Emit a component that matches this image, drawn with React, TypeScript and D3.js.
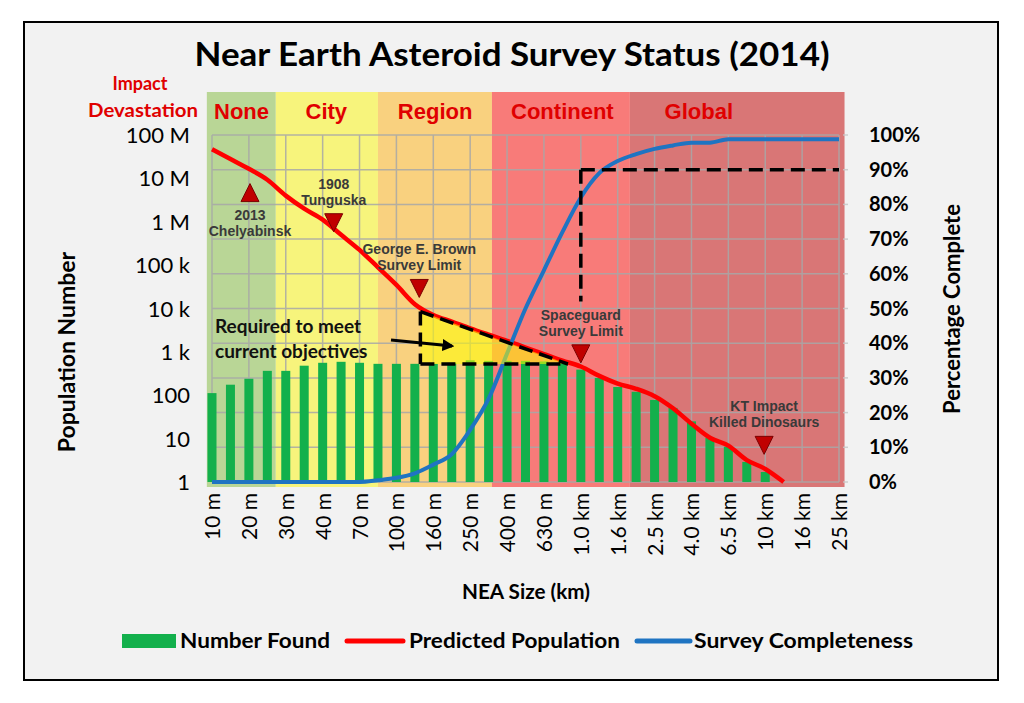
import * as d3 from 'd3';

// x positions are category indices (one per size label, half steps for bars)
const sizeLabels = ['10 m', '20 m', '30 m', '40 m', '70 m', '100 m', '160 m', '250 m', '400 m', '630 m',
  '1.0 km', '1.6 km', '2.5 km', '4.0 km', '6.5 km', '10 km', '16 km', '25 km'];

const popTicks = [1, 10, 100, 1e3, 1e4, 1e5, 1e6, 1e7, 1e8];
const popTickLabels = ['1', '10', '100', '1 k', '10 k', '100 k', '1 M', '10 M', '100 M'];
const pctTicks = [0, 10, 20, 30, 40, 50, 60, 70, 80, 90, 100];

// bars at index 0, 0.5, 1 ... 15
const numberFound = [112, 175, 240, 365, 365, 480, 560, 590, 560, 530, 530, 530, 530, 560, 640, 620,
  620, 620, 600, 560, 390, 250, 155, 120, 78, 51, 25, 10.5, 6.5, 2.9, 1.7];

// index 0 .. 15.5 in half steps
const predicted = [4.7e7, 2.8e7, 1.66e7, 9.3e6, 4.0e6, 2.0e6, 1.12e6, 5.0e5, 2.24e5, 8.9e4, 3.5e4,
  1.26e4, 7.1e3, 5.0e3, 3.5e3, 2.5e3, 1.8e3, 1.26e3, 890, 630, 460, 280, 186, 141, 95, 50, 22,
  10.5, 6.9, 3.2, 2.0, 1];

// index 0 .. 17 in half steps, percent
const completeness = [0, 0, 0, 0, 0, 0, 0, 0, 0, 0.5, 1.2, 2.5, 5, 8, 15, 24, 37, 50, 61, 72, 82, 89,
  92.5, 94.5, 96, 97, 97.8, 97.8, 98.8, 98.8, 98.8, 98.8, 98.8, 98.8, 98.8];

const bandNames = ['None', 'City', 'Region', 'Continent', 'Global'];
const bandStarts = [-0.14, 1.73, 4.5, 7.59, 11.33];
const bandEnds = [1.73, 4.5, 7.59, 11.33, 17.15];
const bandLabelPos = [0.8, 3.1, 6.05, 9.5, 13.2];

const markerNames = [['2013', 'Chelyabinsk'], ['1908', 'Tunguska'], ['George E. Brown', 'Survey Limit'],
  ['Spaceguard', 'Survey Limit'], ['KT Impact', 'Killed Dinosaurs']];
const markerIndex = [1.03, 3.3, 5.62, 10.0, 14.97];
const markerPop = [4.7e6, 9.5e5, 2.9e4, 900, 7];
const markerUp = [true, false, false, false, false];

// "required to meet current objectives" triangle
const gbIndex = 5.65;
const gbPop = 8500;
const requiredPop = 525;
const requiredEnd = 9.65;
// spaceguard goal
const sgIndex = 10;
const sgGoal = 90;
const sgLow = 52;

const bandColors = ['#b9d696', '#f7f47c', '#f9d17f', '#f87b79', '#d97676'];

const App = () => {
  const x = d3.scaleLinear().domain([0, 17]).range([212, 839]);
  const y = d3.scaleLog().domain([1, 1e8]).range([482, 135]);
  const yp = d3.scaleLinear().domain([0, 100]).range([482, 135]);

  const redLine = d3.line<number>()
    .x((_, i) => x(i / 2))
    .y(d => y(d))
    .curve(d3.curveMonotoneX)(predicted);

  const blueLine = d3.line<number>()
    .x((_, i) => x(i / 2))
    .y(d => yp(d))
    .curve(d3.curveMonotoneX)(completeness);

  const tri = [[gbIndex, gbPop], [requiredEnd, requiredPop], [gbIndex, requiredPop]]
    .map(([i, p]) => `${x(i)},${y(p)}`).join(' ');

  const dash = { stroke: '#000', strokeWidth: 3.5, strokeDasharray: '14 7', fill: 'none' };
  const lato = 'Lato, "Open Sans", sans-serif';
  const narrow = '"Liberation Sans Narrow", "Arial Narrow", "Liberation Sans", sans-serif';

  return (
    <svg width={1024} height={703} style={{ position: 'absolute', left: 0, top: 0, background: '#fff' }}>
      <rect x={24} y={22} width={974} height={658} fill="#f2f2f2" stroke="#000" strokeWidth={2} />

      <text x={512} y={66} textAnchor="middle" fontFamily={lato} fontWeight="bold" fontSize={32}
        textLength={635} lengthAdjust="spacingAndGlyphs">Near Earth Asteroid Survey Status (2014)</text>

      {/* impact bands */}
      {bandNames.map((b, i) => (
        <rect key={b} x={x(bandStarts[i])} y={92} width={x(bandEnds[i]) - x(bandStarts[i])} height={395}
          fill={bandColors[i]} />
      ))}
      {bandNames.map((b, i) => (
        <text key={b} x={x(bandLabelPos[i])} y={119} textAnchor="middle" fill="#e00000"
          fontFamily='"Liberation Sans", Arial, sans-serif' fontWeight="bold" fontSize={22}>{b}</text>
      ))}
      <text x={140} y={90} textAnchor="middle" fill="#e00000" fontFamily={lato} fontWeight="bold" fontSize={18}>Impact</text>
      <text x={143} y={117} textAnchor="middle" fill="#e00000" fontFamily={lato} fontWeight="bold" fontSize={18}
        textLength={110} lengthAdjust="spacingAndGlyphs">Devastation</text>

      {/* grid */}
      <g stroke="#a8a8a8" strokeWidth={1.5} opacity={0.85}>
        {sizeLabels.map((s, i) => <line key={s} x1={x(i)} x2={x(i)} y1={yp(100)} y2={yp(0)} />)}
        {pctTicks.map(p => <line key={p} x1={x(0)} x2={x(17)} y1={yp(p)} y2={yp(p)} />)}
        {pctTicks.map(p => <line key={'t' + p} x1={x(17) + 4} x2={x(17) + 9} y1={yp(p)} y2={yp(p)} stroke="#c8c8c8" />)}
      </g>

      {/* bars */}
      {numberFound.map((v, i) => (
        <rect key={i} x={x(i / 2) - 4.5} y={y(v)} width={9} height={y(1) - y(v)} fill="#13b04c" />
      ))}

      <path d={redLine ?? ''} fill="none" stroke="#ff0000" strokeWidth={4.5} strokeLinejoin="round" />
      <path d={blueLine ?? ''} fill="none" stroke="#1f74c2" strokeWidth={4} strokeLinejoin="round" />

      {/* required objectives */}
      <polygon points={tri} fill="rgba(255,255,0,0.55)" />
      <line x1={x(gbIndex)} x2={x(gbIndex)} y1={y(gbPop)} y2={y(requiredPop)} {...dash} />
      <line x1={x(gbIndex)} x2={x(requiredEnd)} y1={y(requiredPop)} y2={y(requiredPop)} {...dash} />
      <line x1={x(gbIndex)} x2={x(requiredEnd)} y1={y(gbPop)} y2={y(requiredPop)} {...dash} />
      <line x1={x(sgIndex)} x2={x(sgIndex)} y1={yp(sgGoal)} y2={yp(sgLow)} {...dash} />
      <line x1={x(sgIndex)} x2={x(17)} y1={yp(sgGoal)} y2={yp(sgGoal)} {...dash} />

      <text fontFamily={lato} fontWeight="bold" fontSize={19} fill="#111">
        <tspan x={215} y={333}>Required to meet</tspan>
        <tspan x={215} y={358}>current objectives</tspan>
      </text>
      <defs>
        <marker id="arr" viewBox="0 0 10 10" refX={8} refY={5} markerWidth={4} markerHeight={4} orient="auto">
          <path d="M0,0 L10,5 L0,10 z" fill="#000" />
        </marker>
      </defs>
      <line x1={391} y1={340} x2={452} y2={346} stroke="#000" strokeWidth={3} markerEnd="url(#arr)" />

      {/* events */}
      {markerNames.map((m, i) => {
        const cx = x(markerIndex[i]);
        const cy = y(markerPop[i]);
        const pts = markerUp[i]
          ? `${cx - 9},${cy + 9} ${cx + 9},${cy + 9} ${cx},${cy - 9}`
          : `${cx - 9},${cy - 9} ${cx + 9},${cy - 9} ${cx},${cy + 9}`;
        const ty = markerUp[i] ? cy + 27 : cy - 34;
        return (
          <g key={i}>
            <polygon points={pts} fill="#c00000" stroke="#7a0000" strokeWidth={1} />
            <text textAnchor="middle" fontFamily={narrow} fontWeight="bold" fontSize={14} fill="#3a3a3a">
              <tspan x={cx} y={ty}>{m[0]}</tspan>
              <tspan x={cx} y={ty + 16}>{m[1]}</tspan>
            </text>
          </g>
        );
      })}

      {/* axes */}
      {popTicks.map((t, i) => (
        <text key={t} x={190} y={y(t) + 8} textAnchor="end" fontFamily={lato} fontSize={22}>{popTickLabels[i]}</text>
      ))}
      {pctTicks.map(p => (
        <text key={p} x={869} y={yp(p) + 7} fontFamily={lato} fontWeight="bold" fontSize={20}>{p}%</text>
      ))}
      {sizeLabels.map((s, i) => (
        <text key={s} transform={`translate(${x(i) + 8},493) rotate(-90)`} textAnchor="end"
          fontFamily={lato} fontSize={21}>{s}</text>
      ))}
      <text transform="translate(75,352) rotate(-90)" textAnchor="middle" fontFamily={lato} fontWeight="bold"
        fontSize={23}>Population Number</text>
      <text transform="translate(960,309) rotate(-90)" textAnchor="middle" fontFamily={lato} fontWeight="bold"
        fontSize={22}>Percentage Complete</text>
      <text x={526} y={599} textAnchor="middle" fontFamily={lato} fontWeight="bold" fontSize={20}
        textLength={128} lengthAdjust="spacingAndGlyphs">NEA Size (km)</text>

      {/* legend */}
      <rect x={122} y={634} width={54} height={14} fill="#13b04c" />
      <text x={180} y={648} fontFamily={lato} fontWeight="bold" fontSize={20} textLength={150}
        lengthAdjust="spacingAndGlyphs">Number Found</text>
      <line x1={347} x2={403} y1={641} y2={641} stroke="#ff0000" strokeWidth={5} strokeLinecap="round" />
      <text x={409} y={648} fontFamily={lato} fontWeight="bold" fontSize={20} textLength={211}
        lengthAdjust="spacingAndGlyphs">Predicted Population</text>
      <line x1={637} x2={690} y1={641} y2={641} stroke="#1f74c2" strokeWidth={5} strokeLinecap="round" />
      <text x={694} y={648} fontFamily={lato} fontWeight="bold" fontSize={20} textLength={219}
        lengthAdjust="spacingAndGlyphs">Survey Completeness</text>
    </svg>
  );
};

export default App;
